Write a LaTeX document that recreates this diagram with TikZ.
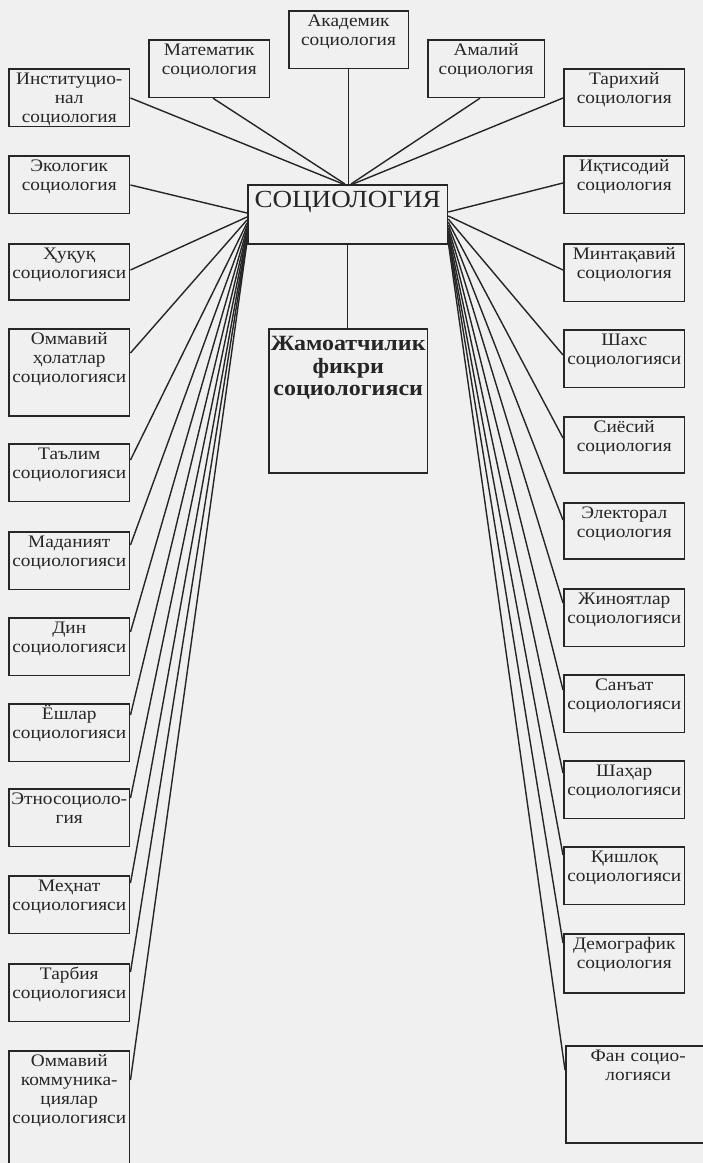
\documentclass[tikz,border=0pt]{standalone}
\usepackage{fontspec}
\setmainfont[FakeStretch=1.1]{Liberation Serif}
\usetikzlibrary{calc}

\begin{document}
\begin{tikzpicture}[x=0.025cm,y=-0.025cm,
  sbox/.style={draw=black!85,line width=1.1pt,anchor=north west,inner sep=0pt,align=center,
    text width=86pt,text height=11pt,text depth=30pt,text=black!85,font=\fontsize{12.5}{13.5}\selectfont},
  link/.style={draw=black!85,line width=1pt}]
\useasboundingbox (0,0) rectangle (703,1163);
\fill[black!6] (0,0) rectangle (703,1163);
% top row
\node[sbox,text width=85pt] (akad) at (288,10) {Академик\\социология};
\node[sbox] (mat) at (148,39) {Математик\\социология};
\node[sbox,text width=83pt] (amal) at (427,39) {Амалий\\социология};
\node[sbox] (inst) at (8,68) {Институцио-\\нал\\социология};
\node[sbox] (tarix) at (563,68) {Тарихий\\социология};
\node[sbox] (ekol) at (8,155) {Экологик\\социология};
\node[sbox] (iqt) at (563,155) {Иқтисодий\\социология};
% centre
\node[sbox,text width=142pt,text height=16.5pt,text depth=25.5pt,font=\fontsize{17.5}{20}\selectfont] (soc) at (247,184) {СОЦИОЛОГИЯ};
\node[sbox,text width=113pt,text height=15.5pt,text depth=86.9pt,font=\bfseries\fontsize{15.5}{16}\selectfont] (jam) at (268,328) {Жамоатчилик\\фикри\\социологияси};
% left column
\node[sbox,text depth=29pt] (huq) at (8,243) {Ҳуқуқ\\социологияси};
\node[sbox,text depth=51pt] (ommh) at (8,328) {Оммавий\\ҳолатлар\\социологияси};
\node[sbox] (talim) at (8,443) {Таълим\\социологияси};
\node[sbox] (madan) at (8,531) {Маданият\\социологияси};
\node[sbox] (din) at (8,617) {Дин\\социологияси};
\node[sbox] (yosh) at (8,703) {Ёшлар\\социологияси};
\node[sbox] (etno) at (8,788) {Этносоциоло-\\гия};
\node[sbox] (mehnat) at (8,875) {Меҳнат\\социологияси};
\node[sbox] (tarb) at (8,963) {Тарбия\\социологияси};
\node[sbox,text depth=74pt] (ommk) at (8,1050) {Оммавий\\коммуника-\\циялар\\социологияси};
% right column
\node[sbox] (minta) at (563,243) {Минтақавий\\социология};
\node[sbox] (shaxs) at (563,329) {Шахс\\социологияси};
\node[sbox,text depth=29pt] (siyos) at (563,416) {Сиёсий\\социология};
\node[sbox,text depth=29pt] (elekt) at (563,502) {Электорал\\социология};
\node[sbox] (jinoy) at (563,588) {Жиноятлар\\социологияси};
\node[sbox] (sanat) at (563,674) {Санъат\\социологияси};
\node[sbox] (shahar) at (563,760) {Шаҳар\\социологияси};
\node[sbox] (qishl) at (563,846) {Қишлоқ\\социологияси};
\node[sbox,text depth=31pt] (demog) at (563,933) {Демографик\\социология};
\node[sbox,text width=103pt,text depth=58pt] (fan) at (565,1045) {Фан социо-\\логияси};
% links to the top
\draw[link] ($(inst.north east)+(0,30)$) -- ($(soc.north west)+(96,0)$);
\draw[link] ($(mat.south west)+(65,0)$) -- ($(soc.north west)+(98,0)$);
\draw[link] (akad.south) -- (akad.south |- soc.north);
\draw[link] ($(amal.south west)+(53,0)$) -- ($(soc.north west)+(104,0)$);
\draw[link] ($(tarix.north west)+(0,30)$) -- ($(soc.north west)+(106,0)$);
\draw[link] (soc.south) -- (soc.south |- jam.north);
% links to the left
\draw[link] ($(ekol.north east)+(0,30)$) -- ($(soc.north west)+(0,29)$);
\draw[link] ($(huq.north east)+(0,27)$) -- ($(soc.north west)+(0,33)$);
\draw[link] ($(ommh.north east)+(0,25)$) -- ($(soc.north west)+(0,36)$);
\draw[link] ($(talim.north east)+(0,17)$) -- ($(soc.north west)+(0,39)$);
\draw[link] ($(madan.north east)+(0,14)$) -- ($(soc.north west)+(0,42)$);
\draw[link] ($(din.north east)+(0,15)$) -- ($(soc.north west)+(0,45)$);
\draw[link] ($(yosh.north east)+(0,12)$) -- ($(soc.north west)+(0,48)$);
\draw[link] ($(etno.north east)+(0,10)$) -- ($(soc.north west)+(0,51)$);
\draw[link] ($(mehnat.north east)+(0,8)$) -- ($(soc.north west)+(0,54)$);
\draw[link] ($(tarb.north east)+(0,9)$) -- ($(soc.north west)+(0,56)$);
\draw[link] ($(ommk.north east)+(0,30)$) -- ($(soc.north west)+(0,58)$);
% links to the right
\draw[link] ($(iqt.north west)+(0,28)$) -- ($(soc.north east)+(0,28)$);
\draw[link] ($(minta.north west)+(0,27)$) -- ($(soc.north east)+(0,32)$);
\draw[link] ($(shaxs.north west)+(0,26)$) -- ($(soc.north east)+(0,35)$);
\draw[link] ($(siyos.north west)+(0,22)$) -- ($(soc.north east)+(0,38)$);
\draw[link] ($(elekt.north west)+(0,18)$) -- ($(soc.north east)+(0,41)$);
\draw[link] ($(jinoy.north west)+(0,15)$) -- ($(soc.north east)+(0,44)$);
\draw[link] ($(sanat.north west)+(0,16)$) -- ($(soc.north east)+(0,47)$);
\draw[link] ($(shahar.north west)+(0,13)$) -- ($(soc.north east)+(0,50)$);
\draw[link] ($(qishl.north west)+(0,9)$) -- ($(soc.north east)+(0,53)$);
\draw[link] ($(demog.north west)+(0,10)$) -- ($(soc.north east)+(0,55)$);
\draw[link] ($(fan.north west)+(0,25)$) -- ($(soc.north east)+(0,58)$);
\end{tikzpicture}
\end{document}
